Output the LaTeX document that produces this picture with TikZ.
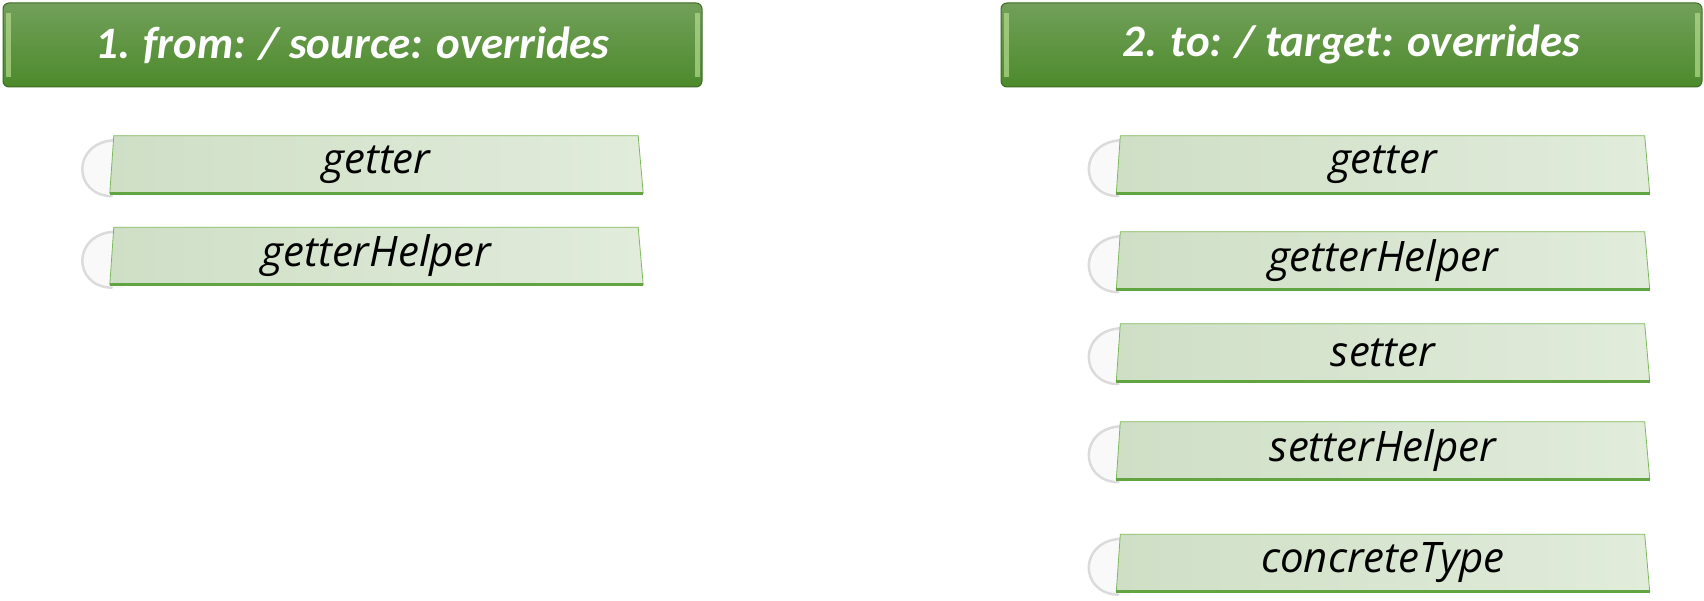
\documentclass[tikz,border=0pt]{standalone}
\usepackage{fontspec}
\setmainfont{Carlito}
\newfontfamily\boxfont{Open Sans}
\usetikzlibrary{backgrounds,calc}
\definecolor{hdtop}{HTML}{72A05A}
\definecolor{hdbot}{HTML}{4C8A2B}
\definecolor{hdborder}{HTML}{3B6A22}
\definecolor{hdlight}{HTML}{B4DA8E}
\definecolor{itl}{HTML}{CFDFC6}
\definecolor{itr}{HTML}{E1ECDB}
\definecolor{itline}{HTML}{7DB95B}
\definecolor{itbot}{HTML}{62A441}
\tikzset{
  header/.style={rectangle, rounded corners=6pt, draw=hdborder, line width=1pt,
    top color=hdtop, bottom color=hdbot, minimum height=84pt, inner sep=0pt,
    text=white, font=\fontsize{45}{50}\selectfont\bfseries\itshape},
  item/.style={rectangle, minimum width=533pt, minimum height=57pt, inner sep=0pt,
    text=black, font=\boxfont\itshape\fontsize{42}{46}\selectfont},
  itemfill/.style={draw=itline, line width=0.8pt, left color=itl, right color=itr},
  itembottom/.style={draw=itbot, line width=3pt},
  crescent/.style={fill=gray!5},
  crescentedge/.style={draw=gray!28, line width=2.5pt, line cap=round},
  bevel/.style={fill=hdlight, opacity=0.7}
}
\newcommand\itm[4]{%
  \node[item] (#1) at (#2,#3) {#4};
  \begin{pgfonlayer}{background}
    \path[crescent] ($(#1.south west)+(14,3)$)
      .. controls ($(#1.south west)+(-42,3)$) and ($(#1.south west)+(-42,-53)$)
      .. ($(#1.south west)+(14,-53)$) -- cycle;
    \draw[crescentedge] ($(#1.south west)+(2,3)$)
      .. controls ($(#1.south west)+(-38,2)$) and ($(#1.south west)+(-38,-52)$)
      .. ($(#1.south west)+(6,-53)$);
    \path[itemfill] (#1.south west) -- ($(#1.north west)+(4,0)$)
      -- ($(#1.north east)+(-5,0)$) -- (#1.south east) -- cycle;
    \draw[itembottom] (#1.south west) -- (#1.south east);
  \end{pgfonlayer}
}
\newcommand\hdr[4]{%
  \node[header, minimum width=#3] (#1) at (#2,45) {#4};
  \fill[bevel] ($(#1.west)+(3,-32)$) rectangle ($(#1.west)+(8,32)$);
  \fill[bevel] ($(#1.east)+(-8,-32)$) rectangle ($(#1.east)+(-3,32)$);
}
\begin{document}
\begin{tikzpicture}[x=1pt,y=-1pt]
\useasboundingbox (0,0) rectangle (1704,601);
\begin{pgfonlayer}{background}
\fill[white] (0,0) rectangle (1704,601);
\end{pgfonlayer}
\hdr{h1}{352.5}{699pt}{1. from: / source: overrides}
\hdr{h2}{1351.5}{701pt}{2. to: / target: overrides}

\itm{lgetter}{376.5}{164.5}{getter}
\itm{lgetterhelper}{376.5}{256}{getterHelper}

\itm{rgetter}{1383}{164.5}{getter}
\itm{rgetterhelper}{1383}{260.5}{getterHelper}
\itm{rsetter}{1383}{352.5}{setter}
\itm{rsetterhelper}{1383}{450.5}{setterHelper}
\itm{rconcrete}{1383}{563}{concreteType}
\end{tikzpicture}
\end{document}
